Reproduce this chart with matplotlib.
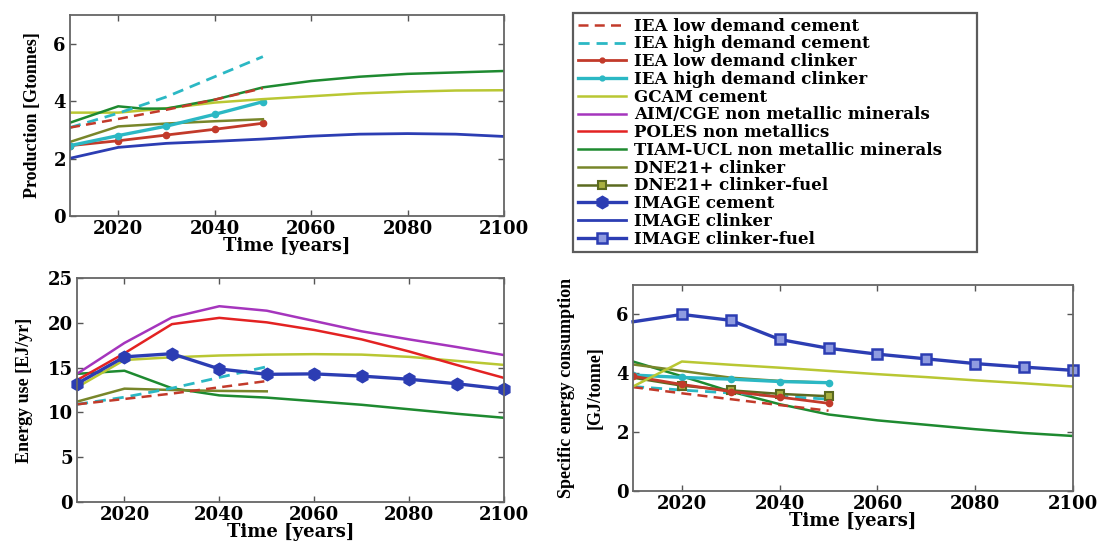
import matplotlib
matplotlib.use("Agg")
import matplotlib.pyplot as plt
from matplotlib.lines import Line2D

plt.rcParams['font.family'] = ['Liberation Serif', 'DejaVu Serif']
plt.rcParams['font.weight'] = 'bold'
plt.rcParams['axes.labelweight'] = 'bold'

# ---------------- data ----------------
years_iea = [2010, 2020, 2030, 2040, 2050]
years_dec = [2010, 2020, 2030, 2040, 2050, 2060, 2070, 2080, 2090, 2100]
years_tiam_prod = [2010, 2020, 2025, 2030, 2040, 2050, 2060, 2070, 2080, 2090, 2100]

# Production [Gtonnes]
prod_iea_low_cement = [3.08, 3.38, 3.70, 4.05, 4.45]
prod_iea_high_cement = [3.08, 3.58, 4.15, 4.85, 5.55]
prod_iea_low_clinker = [2.45, 2.62, 2.82, 3.02, 3.23]
prod_iea_high_clinker = [2.45, 2.80, 3.13, 3.54, 3.98]
prod_gcam = [3.60, 3.60, 3.75, 3.95, 4.07, 4.17, 4.27, 4.33, 4.37, 4.38]
prod_tiam = [3.25, 3.82, 3.74, 3.74, 4.05, 4.48, 4.70, 4.85, 4.95, 5.00, 5.05]
prod_dne_clinker = [2.58, 3.12, 3.22, 3.30, 3.37]
prod_image_clinker = [2.01, 2.39, 2.53, 2.60, 2.68, 2.78, 2.85, 2.87, 2.85, 2.77]

# Energy use [EJ/yr]
en_iea_low_cement = [10.9, 11.5, 12.1, 12.8, 13.5]
en_iea_high_cement = [10.9, 11.7, 12.7, 13.9, 15.1]
en_gcam = [12.8, 15.85, 16.15, 16.35, 16.45, 16.5, 16.45, 16.2, 15.75, 15.3]
en_aim = [14.3, 17.75, 20.6, 21.85, 21.35, 20.2, 19.05, 18.15, 17.3, 16.4]
en_poles = [13.6, 16.6, 19.85, 20.55, 20.05, 19.2, 18.15, 16.8, 15.3, 13.85]
en_tiam = [14.3, 14.65, 12.7, 11.9, 11.65, 11.25, 10.85, 10.35, 9.85, 9.4]
en_dne_clinker = [11.2, 12.65, 12.5, 12.4, 12.35]
en_image_cement = [13.2, 16.2, 16.55, 14.85, 14.25, 14.3, 14.05, 13.7, 13.2, 12.6]

# Specific energy consumption [GJ/tonne]
sec_iea_low_cement = [3.53, 3.32, 3.12, 2.92, 2.73]
sec_iea_high_cement = [3.55, 3.43, 3.33, 3.22, 3.12]
sec_iea_low_clinker = [3.90, 3.62, 3.38, 3.19, 2.98]
sec_iea_high_clinker = [3.94, 3.86, 3.80, 3.72, 3.68]
sec_gcam = [3.55, 4.40, 4.29, 4.19, 4.08, 3.97, 3.87, 3.76, 3.66, 3.55]
sec_tiam = [4.40, 3.90, 3.38, 2.95, 2.60, 2.40, 2.25, 2.10, 1.97, 1.87]
sec_dne_clinker = [4.30, 4.08, 3.85, 3.74, 3.68]
sec_dne_fuel = [3.85, 3.58, 3.42, 3.30, 3.22]
sec_image_fuel = [5.75, 6.00, 5.80, 5.15, 4.85, 4.65, 4.49, 4.33, 4.21, 4.10]

x_ticks = [2020, 2040, 2060, 2080, 2100]
prod_yticks = [0, 2, 4, 6]
en_yticks = [0, 5, 10, 15, 20, 25]
sec_yticks = [0, 2, 4, 6]

labels = ["IEA low demand cement", "IEA high demand cement",
          "IEA low demand clinker", "IEA high demand clinker",
          "GCAM cement", "AIM/CGE non metallic minerals",
          "POLES non metallics", "TIAM-UCL non metallic minerals",
          "DNE21+ clinker", "DNE21+ clinker-fuel", "IMAGE cement",
          "IMAGE clinker", "IMAGE clinker-fuel"]

# ---------------- styles ----------------
C_LOW = '#c23a2a'
C_HIGH = '#2bb8c4'
C_GCAM = '#b9c733'
C_AIM = '#a535bd'
C_POLES = '#e32222'
C_TIAM = '#1e8a30'
C_DNE = '#78862a'
C_DNEF = '#5b6a20'
C_IMG = '#2c3db3'

WIDE = 'DejaVu Serif'

styles = {
    labels[0]: dict(color=C_LOW, ls=(0, (4, 2.5)), lw=1.8),
    labels[1]: dict(color=C_HIGH, ls=(0, (4, 2.5)), lw=2.0),
    labels[2]: dict(color=C_LOW, ls='-', lw=2.0, marker='o', ms=4.5),
    labels[3]: dict(color=C_HIGH, ls='-', lw=2.4, marker='o', ms=4.5),
    labels[4]: dict(color=C_GCAM, ls='-', lw=1.8),
    labels[5]: dict(color=C_AIM, ls='-', lw=1.8),
    labels[6]: dict(color=C_POLES, ls='-', lw=1.8),
    labels[7]: dict(color=C_TIAM, ls='-', lw=1.8),
    labels[8]: dict(color=C_DNE, ls='-', lw=1.8),
    labels[9]: dict(color=C_DNEF, ls='-', lw=1.8, marker='s', ms=6,
                    mfc='#a8b040', mec=C_DNEF, mew=1.5),
    labels[10]: dict(color=C_IMG, ls='-', lw=2.4, marker='h', ms=9),
    labels[11]: dict(color=C_IMG, ls='-', lw=2.0),
    labels[12]: dict(color=C_IMG, ls='-', lw=2.4, marker='s', ms=7,
                     mfc='#8f9be0', mec=C_IMG, mew=1.8),
}

W, H = 1103, 542
fig = plt.figure(figsize=(W / 100, H / 100), dpi=100)


def make_ax(x0, y0, x1, y1):
    return fig.add_axes([x0 / W, 1 - y1 / H, (x1 - x0) / W, (y1 - y0) / H])


def style_ax(ax, ymax, yticks, ylabel, ylab_x, linesp=1.2):
    ax.set_xlim(2010, 2100)
    ax.set_ylim(0, ymax)
    ax.set_xticks(x_ticks)
    ax.set_yticks(yticks)
    tfont = dict(fontfamily=WIDE, fontweight='bold', fontsize=13)
    ax.set_xticklabels([str(t) for t in x_ticks], **tfont)
    ax.set_yticklabels([str(t) for t in yticks], **tfont)
    ax.tick_params(direction='in', top=True, right=True, length=4,
                   width=1.0, color='#555555', pad=3)
    for s in ax.spines.values():
        s.set_color('#666666')
        s.set_linewidth(1.3)
    ax.set_xlabel('Time [years]', fontsize=13, fontweight='bold',
                  fontfamily=WIDE, labelpad=-1)
    ax.set_ylabel(ylabel, fontsize=13, fontweight='bold', linespacing=linesp)
    ax.yaxis.set_label_coords(ylab_x, 0.5)


def draw(ax, x, y, label, clip=True, **extra):
    st = dict(styles[label])
    st.update(extra)
    ax.plot(x, y, clip_on=clip, **st)


# ---- Production ----
ax1 = make_ax(70, 15, 504, 216)
draw(ax1, years_dec, prod_image_clinker, labels[11])
draw(ax1, years_iea, prod_iea_low_clinker, labels[2])
draw(ax1, years_iea, prod_dne_clinker, labels[8])
draw(ax1, years_iea, prod_iea_high_clinker, labels[3])
draw(ax1, years_dec, prod_gcam, labels[4])
draw(ax1, years_tiam_prod, prod_tiam, labels[7])
draw(ax1, years_iea, prod_iea_high_cement, labels[1])
draw(ax1, years_iea, prod_iea_low_cement, labels[0])
style_ax(ax1, 7, prod_yticks, 'Production [Gtonnes]', -0.066)

# ---- Energy use ----
ax2 = make_ax(77, 278, 504, 502)
draw(ax2, years_dec, en_tiam, labels[7])
draw(ax2, years_iea, en_dne_clinker, labels[8])
draw(ax2, years_iea, en_iea_high_cement, labels[1])
draw(ax2, years_iea, en_iea_low_cement, labels[0])
draw(ax2, years_dec, en_gcam, labels[4])
draw(ax2, years_dec, en_aim, labels[5])
draw(ax2, years_dec, en_poles, labels[6])
draw(ax2, years_dec, en_image_cement, labels[10], clip=False)
style_ax(ax2, 25, en_yticks, 'Energy use [EJ/yr]', -0.104)

# ---- Specific energy consumption ----
ax3 = make_ax(633, 285, 1073, 491)
draw(ax3, years_dec, sec_tiam, labels[7])
draw(ax3, years_iea, sec_dne_clinker, labels[8])
draw(ax3, years_iea, sec_iea_high_cement, labels[1])
draw(ax3, years_iea, sec_iea_low_cement, labels[0])
draw(ax3, years_iea, sec_dne_fuel, labels[9], markevery=[1, 2, 3, 4])
draw(ax3, years_iea, sec_iea_high_clinker, labels[3])
draw(ax3, years_iea, sec_iea_low_clinker, labels[2])
draw(ax3, years_dec, sec_gcam, labels[4])
draw(ax3, years_dec, sec_image_fuel, labels[12], clip=False,
     markevery=list(range(1, len(years_dec))))
style_ax(ax3, 7, sec_yticks, 'Specific energy consumption\n[GJ/tonne]',
         -0.066, linesp=1.9)

# ---- Legend ----
handles = []
for lab in labels:
    st = dict(styles[lab])
    if st.get('marker') == 'o':
        st['ms'] = 3.5
    handles.append(Line2D([], [], **st))
leg = fig.legend(handles, labels, loc='upper left',
                 bbox_to_anchor=(573 / W, 1 - 252 / H, 404 / W, 239 / H),
                 mode='expand', frameon=True, fancybox=False,
                 handlelength=2.9, handletextpad=0.5, labelspacing=0.045,
                 borderaxespad=0, borderpad=0.28,
                 prop=dict(family=WIDE, weight='bold', size=12))
leg.get_frame().set_edgecolor('#333333')
leg.get_frame().set_linewidth(1.6)

fig.savefig('out.png', dpi=100)
